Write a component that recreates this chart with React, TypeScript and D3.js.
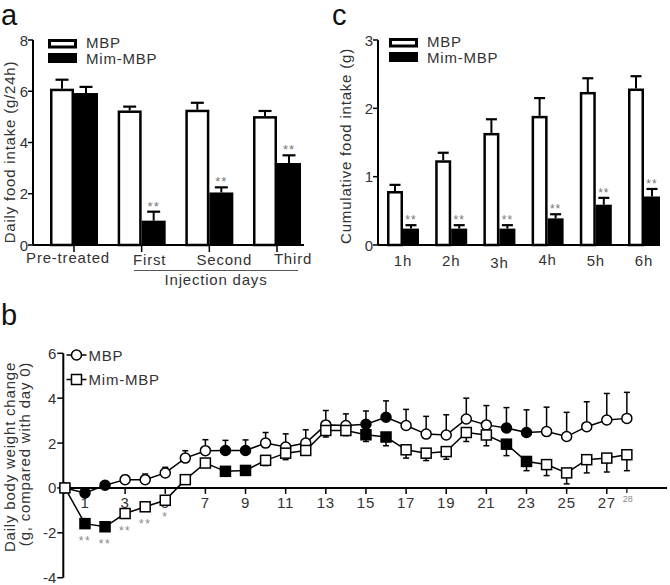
import React from 'react';
import * as d3 from 'd3';

// ---------- Panel a data ----------
const groupsA = ['Pre-treated', 'First', 'Second', 'Third'];
const mbpA = [6.1, 5.25, 5.28, 5.03];
const mbpAErr = [0.35, 0.15, 0.27, 0.2];
const mimA = [5.93, 0.95, 2.05, 3.2];
const mimAErr = [0.24, 0.35, 0.2, 0.3];
const sigA = ['', '**', '**', '**'];
const yTicksA = [0, 2, 4, 6, 8];

// ---------- Panel c data ----------
const groupsC = ['1h', '2h', '3h', '4h', '5h', '6h'];
const mbpC = [0.79, 1.24, 1.64, 1.89, 2.24, 2.29];
const mbpCErr = [0.09, 0.11, 0.2, 0.26, 0.2, 0.18];
const mimC = [0.24, 0.24, 0.24, 0.39, 0.59, 0.71];
const mimCErr = [0.05, 0.05, 0.05, 0.06, 0.1, 0.11];
const sigC = ['**', '**', '**', '**', '**', '**'];
const yTicksC = [0, 1, 2, 3];

// ---------- Panel b data ----------
const daysB = [0, 1, 2, 3, 4, 5, 6, 7, 8, 9, 10, 11, 12, 13, 14, 15, 16, 17, 18, 19, 20, 21, 22, 23, 24, 25, 26, 27, 28];
const mbpB = [0, -0.22, 0.12, 0.37, 0.37, 0.67, 1.33, 1.66, 1.67, 1.67, 2.0, 1.82, 2.0, 2.81, 2.78, 2.84, 3.15, 2.78, 2.4, 2.36, 3.07, 2.81, 2.67, 2.47, 2.51, 2.29, 2.73, 3.03, 3.1];
const mbpBErr = [0, 0.1, 0.1, 0.19, 0.25, 0.25, 0.33, 0.49, 0.45, 0.47, 0.47, 0.59, 0.59, 0.64, 0.52, 0.59, 0.73, 0.72, 0.79, 0.9, 0.93, 0.86, 0.91, 1.01, 1.09, 1.08, 1.11, 1.18, 1.16];
const mimB = [0, -1.59, -1.73, -1.14, -0.84, -0.55, 0.37, 1.11, 0.74, 0.78, 1.23, 1.55, 1.67, 2.56, 2.56, 2.37, 2.27, 1.7, 1.55, 1.62, 2.47, 2.36, 1.95, 1.18, 1.04, 0.67, 1.26, 1.33, 1.48];
const mimBErr = [0, 0.1, 0.1, 0.12, 0.12, 0.12, 0.12, 0.12, 0.12, 0.12, 0.23, 0.29, 0.2, 0.29, 0.23, 0.3, 0.39, 0.37, 0.33, 0.34, 0.4, 0.48, 0.51, 0.41, 0.49, 0.49, 0.59, 0.62, 0.71];
const filledDaysB = [1, 2, 8, 9, 15, 16, 22, 23];
const sigDaysB = [1, 2, 3, 4, 5];
const sigMarksB = ['**', '**', '**', '**', '*'];
const xTickDaysB = [1, 3, 5, 7, 9, 11, 13, 15, 17, 19, 21, 23, 25, 27];
const extraTickDayB = 28;
const yTicksB = [-4, -2, 0, 2, 4, 6];

const FONT = '"Liberation Sans", Arial, Helvetica, sans-serif';
const TXT = '#333';
const LS = '0.8px';

function BarPanel(props: {
  groups: string[]; mbp: number[]; mbpErr: number[]; mim: number[]; mimErr: number[]; sig: string[];
  yTicks: number[]; y: d3.ScaleLinear<number, number>; x: d3.ScalePoint<string>; bw: number; cap: number;
  axisX: number; axisEnd: number; labelDx: number[]; labelY: number[]; groupTicks: boolean; sigSize: number;
}) {
  const { groups, mbp, mbpErr, mim, mimErr, sig, yTicks, y, x, bw, cap, axisX, axisEnd, labelDx, labelY, groupTicks, sigSize } = props;
  const base = y(0);
  return (
    <g>
      {groups.map((g, i) => {
        const cx = x(g) as number;
        const tM = y(mbp[i]);
        const eM = y(mbp[i] + mbpErr[i]);
        const tF = y(mim[i]);
        const eF = y(mim[i] + mimErr[i]);
        return (
          <g key={g}>
            <line x1={cx - bw / 2} x2={cx - bw / 2} y1={tM} y2={eM} stroke="#000" strokeWidth={2} />
            <line x1={cx - bw / 2 - cap / 2} x2={cx - bw / 2 + cap / 2} y1={eM} y2={eM} stroke="#000" strokeWidth={2.2} />
            <line x1={cx + bw / 2} x2={cx + bw / 2} y1={tF} y2={eF} stroke="#000" strokeWidth={2} />
            <line x1={cx + bw / 2 - cap / 2} x2={cx + bw / 2 + cap / 2} y1={eF} y2={eF} stroke="#000" strokeWidth={2.2} />
            <rect x={cx - bw + 1.25} y={tM + 1.25} width={bw - 2.5} height={base - tM - 1.25} fill="#fff" stroke="#000" strokeWidth={2.5} />
            <rect x={cx} y={tF} width={bw} height={base - tF} fill="#000" />
            {sig[i] && (
              <text x={cx + bw / 2} y={eF - 1} textAnchor="middle" fontSize={sigSize} fill="#777" fontFamily={FONT} letterSpacing="1px">{sig[i]}</text>
            )}
            {groupTicks && <line x1={cx} x2={cx} y1={base} y2={base + 7} stroke="#000" strokeWidth={1.5} />}
            <text x={cx + labelDx[i]} y={labelY[i]} textAnchor="middle" fontSize={15} fill={TXT} fontFamily={FONT} letterSpacing={LS}>{g}</text>
          </g>
        );
      })}
      <line x1={axisX} x2={axisX} y1={y(yTicks[yTicks.length - 1])} y2={base} stroke="#000" strokeWidth={2} />
      <line x1={axisX} x2={axisEnd} y1={base} y2={base} stroke="#000" strokeWidth={2} />
      {yTicks.map(t => (
        <g key={t}>
          <line x1={axisX - 5} x2={axisX} y1={y(t)} y2={y(t)} stroke="#000" strokeWidth={1.5} />
          <text x={axisX - 5} y={y(t) + 5.5} textAnchor="end" fontSize={15} fill={TXT} fontFamily={FONT}>{t}</text>
        </g>
      ))}
    </g>
  );
}

function BarLegend({ x, y }: { x: number; y: number }) {
  return (
    <g fontFamily={FONT} fontSize={15} fill={TXT} letterSpacing={LS}>
      <rect x={x + 1.5} y={y + 1.5} width={26} height={6.5} fill="#fff" stroke="#000" strokeWidth={3} />
      <rect x={x} y={y + 14} width={29} height={10} fill="#000" />
      <text x={x + 38} y={y + 9}>MBP</text>
      <text x={x + 38} y={y + 24.5}>Mim-MBP</text>
    </g>
  );
}

export default function App() {
  const yA = d3.scaleLinear().domain([0, 8]).range([245, 40]);
  const xA = d3.scalePoint<string>().domain(groupsA).range([74, 277]);
  const yC = d3.scaleLinear().domain([0, 3]).range([245, 40]);
  const xC = d3.scalePoint<string>().domain(groupsC).range([403, 644]);
  const yB = d3.scaleLinear().domain([-4, 6]).range([577.7, 353.3]);
  const xB = d3.scaleLinear().domain([-0.08, 30]).range([63.3, 667]);

  const lineB = d3.line<number>().x((_, i) => xB(daysB[i])).y(v => yB(v));
  const isFilled = (d: number) => filledDaysB.includes(d);
  const r = 5;
  const s = 10;

  return (
    <svg width={670} height={585} style={{ position: 'absolute', left: 0, top: 0, background: '#fff' }} fontFamily={FONT}>
      <rect width={670} height={585} fill="#fff" />
      {/* panel letters */}
      <text x={1} y={25} fontSize={29} fill="#111">a</text>
      <text x={332} y={25} fontSize={29} fill="#111">c</text>
      <text x={1} y={325} fontSize={29} fill="#111">b</text>

      {/* ---------- Panel a ---------- */}
      <BarPanel groups={groupsA} mbp={mbpA} mbpErr={mbpAErr} mim={mimA} mimErr={mimAErr} sig={sigA}
        yTicks={yTicksA} y={yA} x={xA} bw={24} cap={13} axisX={33} axisEnd={304}
        labelDx={[-6, 8, 15, 16]} labelY={[263, 265, 265, 264]} groupTicks={true} sigSize={13} />
      <BarLegend x={48} y={39} />
      <line x1={134} x2={298} y1={270.5} y2={270.5} stroke="#555" strokeWidth={1} />
      <text x={216} y={285} textAnchor="middle" fontSize={15} fill={TXT} letterSpacing={LS}>Injection days</text>
      <text transform="translate(14.5,152) rotate(-90)" textAnchor="middle" fontSize={15} fill={TXT} letterSpacing={LS}>Daily food intake (g/24h)</text>

      {/* ---------- Panel c ---------- */}
      <BarPanel groups={groupsC} mbp={mbpC} mbpErr={mbpCErr} mim={mimC} mimErr={mimCErr} sig={sigC}
        yTicks={yTicksC} y={yC} x={xC} bw={16} cap={11} axisX={378} axisEnd={660}
        labelDx={[0, 0, 0, 0, 0, 0]} labelY={[266, 266, 268, 265, 266, 266]} groupTicks={false} sigSize={12} />
      <BarLegend x={389} y={38} />
      <text transform="translate(351,146) rotate(-90)" textAnchor="middle" fontSize={15} fill={TXT} letterSpacing={LS}>Cumulative food intake (g)</text>

      {/* ---------- Panel b ---------- */}
      <g>
        {/* axes */}
        <line x1={xB(-0.08)} x2={xB(-0.08)} y1={yB(6)} y2={yB(-4)} stroke="#000" strokeWidth={2} />
        <line x1={xB(-0.08)} x2={xB(30)} y1={yB(0)} y2={yB(0)} stroke="#000" strokeWidth={2} />
        {yTicksB.map(t => (
          <g key={t}>
            <line x1={xB(-0.08) - 6} x2={xB(-0.08)} y1={yB(t)} y2={yB(t)} stroke="#000" strokeWidth={1.5} />
            <text x={xB(-0.08) - 7} y={yB(t) + 5.5} textAnchor="end" fontSize={15} fill={TXT}>{t}</text>
          </g>
        ))}
        {xTickDaysB.map(d => (
          <g key={d}>
            <line x1={xB(d)} x2={xB(d)} y1={yB(0)} y2={yB(0) + 6} stroke="#000" strokeWidth={1.5} />
            <text x={xB(d)} y={yB(0) + 20} textAnchor="middle" fontSize={15} fill={TXT} letterSpacing={LS}>{d}</text>
          </g>
        ))}
        <line x1={xB(extraTickDayB)} x2={xB(extraTickDayB)} y1={yB(0)} y2={yB(0) + 5} stroke="#000" strokeWidth={1.2} />
        <text x={xB(extraTickDayB) + 1} y={yB(0) + 14} textAnchor="middle" fontSize={9} fill="#888">{extraTickDayB}</text>

        {/* MBP series */}
        {daysB.map((d, i) => mbpBErr[i] > 0 && (
          <g key={'em' + d}>
            <line x1={xB(d)} x2={xB(d)} y1={yB(mbpB[i])} y2={yB(mbpB[i] + mbpBErr[i])} stroke="#000" strokeWidth={1.5} />
            <line x1={xB(d) - 3} x2={xB(d) + 3} y1={yB(mbpB[i] + mbpBErr[i])} y2={yB(mbpB[i] + mbpBErr[i])} stroke="#000" strokeWidth={1.5} />
          </g>
        ))}
        <path d={lineB(mbpB) || ''} fill="none" stroke="#000" strokeWidth={1.5} />
        {daysB.map((d, i) => (
          <circle key={'cm' + d} cx={xB(d)} cy={yB(mbpB[i])} r={r} fill={isFilled(d) ? '#000' : '#fff'} stroke="#000" strokeWidth={1.5} />
        ))}

        {/* Mim-MBP series */}
        {daysB.map((d, i) => mimBErr[i] > 0 && (
          <g key={'ef' + d}>
            <line x1={xB(d)} x2={xB(d)} y1={yB(mimB[i])} y2={yB(mimB[i] - mimBErr[i])} stroke="#000" strokeWidth={1.5} />
            <line x1={xB(d) - 3} x2={xB(d) + 3} y1={yB(mimB[i] - mimBErr[i])} y2={yB(mimB[i] - mimBErr[i])} stroke="#000" strokeWidth={1.5} />
          </g>
        ))}
        <path d={lineB(mimB) || ''} fill="none" stroke="#000" strokeWidth={1.5} />
        {daysB.map((d, i) => (
          <rect key={'sf' + d} x={xB(d) - s / 2} y={yB(mimB[i]) - s / 2} width={s} height={s} fill={isFilled(d) ? '#000' : '#fff'} stroke="#000" strokeWidth={1.5} />
        ))}
        {sigDaysB.map((d, k) => (
          <text key={'sg' + d} x={xB(d)} y={yB(mimB[daysB.indexOf(d)]) + 21} textAnchor="middle" fontSize={12} fill="#888" letterSpacing="1.5px">{sigMarksB[k]}</text>
        ))}

        {/* legend */}
        <line x1={66.5} x2={86.5} y1={355} y2={355} stroke="#000" strokeWidth={1.5} />
        <circle cx={76.5} cy={355} r={r} fill="#fff" stroke="#000" strokeWidth={1.5} />
        <text x={88.5} y={360.5} fontSize={15} fill={TXT} letterSpacing={LS}>MBP</text>
        <line x1={66.5} x2={86.5} y1={379.5} y2={379.5} stroke="#000" strokeWidth={1.5} />
        <rect x={76.5 - s / 2} y={379.5 - s / 2} width={s} height={s} fill="#fff" stroke="#000" strokeWidth={1.5} />
        <text x={88.5} y={385} fontSize={15} fill={TXT} letterSpacing={LS}>Mim-MBP</text>

        <text transform="translate(14.5,457) rotate(-90)" textAnchor="middle" fontSize={15} fill={TXT} letterSpacing={LS}>Daily body weight change</text>
        <text transform="translate(30,454) rotate(-90)" textAnchor="middle" fontSize={15} fill={TXT} letterSpacing={LS}>(g, compared with day 0)</text>
      </g>
    </svg>
  );
}
